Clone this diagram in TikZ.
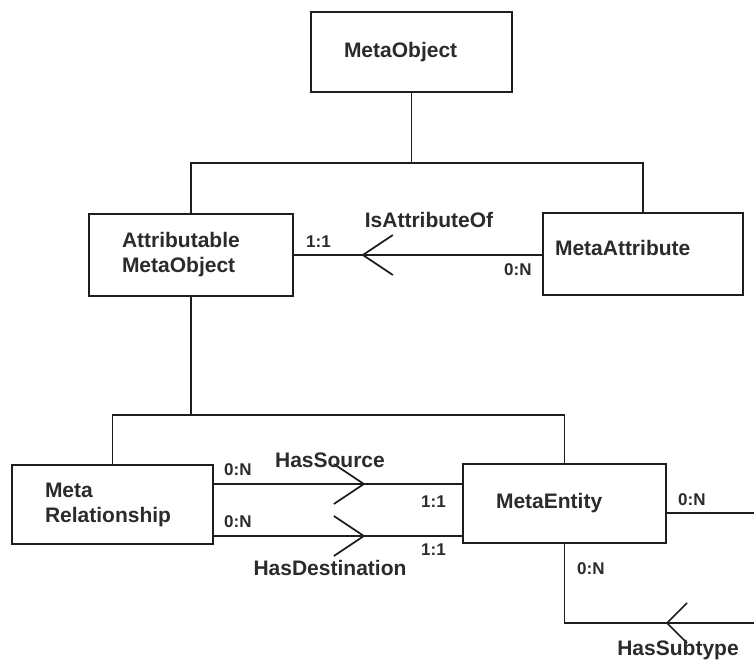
\documentclass[tikz,border=0pt]{standalone}
\usepackage{fontspec}
\setmainfont{Liberation Sans}
\usetikzlibrary{calc}
\definecolor{ink}{HTML}{1E1E1E}
\definecolor{txt}{HTML}{2B2B2B}
\begin{document}
\begin{tikzpicture}[x=1pt,y=-1pt,
  entity/.style={draw=ink, line width=1.7pt, rectangle, align=left, text=txt,
    font=\fontsize{21}{25}\selectfont\bfseries, inner ysep=0pt, inner xsep=33pt},
  link/.style={draw=ink, line width=1.7pt},
  foot/.style={draw=ink, line width=1.7pt, line join=miter},
  card/.style={text=txt, font=\fontsize{17}{20}\selectfont\bfseries, anchor=base west, inner sep=0pt},
  relname/.style={text=txt, font=\fontsize{21}{25}\selectfont\bfseries, anchor=base, inner sep=0pt}
]
% canvas
\fill[white] (0,0) rectangle (754,661);
\useasboundingbox (0,0) rectangle (754,661);

% entities
\node[entity, minimum width=201pt, minimum height=80pt, text width=135pt] (mo) at (411.5,52) {MetaObject};
\node[entity, minimum width=204pt, minimum height=82pt, text width=138pt] (amo) at (191,255) {Attributable\\MetaObject};
\node[entity, minimum width=200pt, minimum height=82pt, inner xsep=12pt, text width=176pt, text depth=12pt] (ma) at (643,254) {MetaAttribute};
\node[entity, minimum width=201pt, minimum height=79pt, text width=135pt] (mr) at (112.5,504.5) {Meta\\Relationship};
\node[entity, minimum width=203pt, minimum height=79pt, text width=137pt, text depth=6pt] (me) at (564.5,503.5) {MetaEntity};

% generalisation trees
\coordinate (j1) at (411.5,163);
\draw[link] (mo.south) -- (j1);
\draw[link] (amo.north) |- (j1) -| (ma.north);
\coordinate (j2) at (191,415);
\draw[link] (amo.south) -- (j2);
\draw[link] (mr.north) |- (j2) -| (me.north);

% IsAttributeOf
\draw[link] (amo.east) -- (amo.east -| ma.west);
\coordinate (isa) at ($(amo.east)+(69,0)$);
\draw[foot] ($(isa)+(30,-20)$) -- (isa) -- ($(isa)+(30,20)$);
\node[relname] (risa) at (429,227) {IsAttributeOf};
\node[card] (c1) at (306,247) {1:1};
\node[card] (c2) at (504,275) {0:N};

% HasSource
\draw[link] ([yshift=20.5pt]mr.east) -- ([yshift=20.5pt]mr.east -| me.west);
\coordinate (hs) at ($(mr.east)+(150,-20.5)$);
\draw[foot] ($(hs)+(-30,-20)$) -- (hs) -- ($(hs)+(-30,20)$);
\node[relname] (rhs) at (330,467) {HasSource};
\node[card] (c3) at (224,475) {0:N};
\node[card] (c4) at (421,507) {1:1};

% HasDestination
\draw[link] ([yshift=-31.5pt]mr.east) -- ([yshift=-31.5pt]mr.east -| me.west);
\coordinate (hd) at ($(mr.east)+(150,31.5)$);
\draw[foot] ($(hd)+(-30,-20)$) -- (hd) -- ($(hd)+(-30,20)$);
\node[relname] (rhd) at (330,575) {HasDestination};
\node[card] (c5) at (224,527) {0:N};
\node[card] (c6) at (421,555) {1:1};

% HasSubtype (loops off to the right)
\coordinate (edgeA) at (754,513);
\draw[link] (me.east |- edgeA) -- (edgeA);
\node[card] (c7) at (678,505) {0:N};
\coordinate (edgeB) at (754,623);
\draw[link] (me.south) |- (edgeB);
\coordinate (hst) at (667,623);
\draw[foot] ($(hst)+(20,-20)$) -- (hst) -- ($(hst)+(20,20)$);
\node[card] (c8) at (577,574) {0:N};
\node[relname] (rhst) at (678,655) {HasSubtype};
\end{tikzpicture}
\end{document}
